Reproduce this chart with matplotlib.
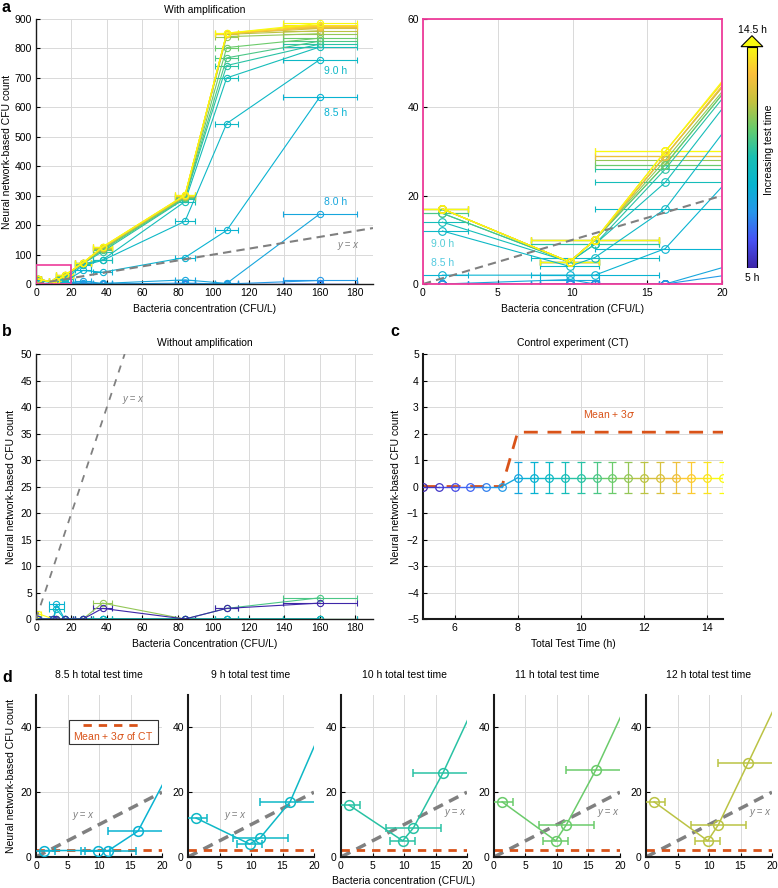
import numpy as np
import matplotlib.pyplot as plt
from matplotlib.colors import LinearSegmentedColormap
from matplotlib.patches import Rectangle, Polygon

plt.rcParams['font.family'] = ['Liberation Sans', 'DejaVu Sans']
plt.rcParams['font.size'] = 7.5

# parula-like colormap (MATLAB default)
parula = LinearSegmentedColormap.from_list('parula', [
    (0.2422, 0.1504, 0.6603), (0.2810, 0.3228, 0.9579), (0.1540, 0.5902, 0.9218),
    (0.0297, 0.7082, 0.8163), (0.1000, 0.7500, 0.7000), (0.4000, 0.8000, 0.4300),
    (0.7700, 0.7600, 0.2500), (0.9900, 0.7500, 0.2300), (0.9763, 0.9831, 0.0538)])

ORANGE = (0.85, 0.325, 0.098)
MAGENTA = '#ee3b9a'
GRAY = (0.5, 0.5, 0.5)

# ---- data ----
times = [5.0, 5.5, 6.0, 6.5, 7.0, 7.5, 8.0, 8.5, 9.0, 9.5,
         10.0, 10.5, 11.0, 11.5, 12.0, 12.5, 13.0, 13.5, 14.0, 14.5]
conc = [1.3, 9.8, 11.5, 16.2, 26.5, 37.5, 84, 107.5, 160]
conc_err = [1.7, 2.0, 4.3, 4.7, 4.5, 5.5, 5.5, 6.5, 21]

amp_counts = [
    [0, 0, 0, 0, 0, 0, 0, 0, 0],
    [0, 0, 0, 0, 0, 0, 0, 0, 0],
    [0, 0, 0, 0, 0, 0, 0, 0, 0],
    [0, 0, 0, 0, 0, 0, 0, 0, 0],
    [0, 0, 0, 0, 0, 0, 0, 0, 0],
    [0, 0, 0, 0, 5, 0, 3, 0, 12],
    [0, 1, 0, 0, 10, 2, 14, 2, 238],
    [2, 2, 2, 8, 46, 40, 90, 182, 635],
    [12, 4, 6, 17, 63, 80, 213, 545, 762],
    [14, 5, 9, 23, 68, 82, 280, 700, 805],
    [16, 5, 9, 26, 69, 110, 290, 742, 815],
    [16, 5, 10, 27, 70, 115, 292, 768, 825],
    [17, 5, 10, 27, 70, 118, 295, 803, 835],
    [17, 5, 10, 28, 70, 120, 297, 840, 850],
    [17, 5, 10, 29, 71, 122, 298, 848, 860],
    [17, 5, 10, 29, 71, 123, 300, 850, 868],
    [17, 5, 10, 29, 72, 124, 300, 850, 872],
    [17, 5, 10, 30, 72, 125, 301, 850, 876],
    [17, 5, 10, 30, 72, 126, 302, 852, 880],
    [17, 5, 10, 30, 73, 126, 302, 852, 885],
]

b_times = [14.5, 11.5, 10.5, 9.0, 8.5, 5.0]
b_counts = [
    [1, 0, 0, 0, 0, 0, 0, 0, 0],
    [0, 0, 0, 0, 0, 3, 0, 0, 0],
    [0, 0, 0, 0, 0, 0, 0, 2, 4],
    [0, 0, 1.8, 0, 0, 0, 0, 0, 0],
    [0, 0, 2.8, 0, 0, 0, 0, 0, 0],
    [0, 0, 0, 0, 0, 2, 0, 2, 3],
]

ct_times = times
ct_mean = [0, 0, 0, 0, 0, 0] + [0.33] * 14
ct_err = [0, 0, 0, 0, 0, 0] + [0.59] * 14
ct_upper = [0, 0, 0, 0, 0, 0] + [2.05] * 14

d_times = [8.5, 9.0, 10.0, 11.0, 12.0]
d_titles = ['8.5 h total test time', '9 h total test time', '10 h total test time',
            '11 h total test time', '12 h total test time']


def col(t):
    return parula((t - 5.0) / 9.5)


W, H = 778, 888
fig = plt.figure(figsize=(W / 100, H / 100), dpi=100)


def box(l, t, r, b):
    return [l / W, 1 - b / H, (r - l) / W, (b - t) / H]


def style(ax, lw=1.0):
    ax.grid(True, color='0.85', lw=0.7)
    ax.set_axisbelow(True)
    for s in ['top', 'right']:
        ax.spines[s].set_visible(False)
    for s in ['left', 'bottom']:
        ax.spines[s].set_color('0.1')
        ax.spines[s].set_linewidth(lw)
    ax.tick_params(direction='in', length=3, width=0.8, labelsize=7.5, pad=3)


YLAB = 'Neural network-based CFU count'

# ---- panel a (left) ----
ax = fig.add_axes(box(36, 19, 373, 284))
style(ax)
for t, y in zip(times, amp_counts):
    ax.errorbar(conc, y, xerr=conc_err, color=col(t), marker='o', mfc='none',
                ms=4.5, mew=0.8, lw=0.8, elinewidth=0.8, capsize=2.2)
ax.axline((0, 0), slope=1, color=GRAY, ls='--', lw=1.5, dashes=(4, 2.5), zorder=3)
ax.add_patch(Rectangle((0, 0), 20, 63, fill=False, ec=MAGENTA, lw=1.2, zorder=5))
ax.set_xlim(0, 190)
ax.set_ylim(0, 900)
ax.set_xticks(np.arange(0, 181, 20))
ax.set_yticks(np.arange(0, 901, 100))
ax.set_title('With amplification', fontsize=7.5, pad=4)
ax.set_xlabel('Bacteria concentration (CFU/L)')
ax.set_ylabel(YLAB, labelpad=2)
ax.text(169, 723, '9.0 h', color=col(9.0), fontsize=7.5, ha='center', va='center')
ax.text(169, 580, '8.5 h', color=col(8.5), fontsize=7.5, ha='center', va='center')
ax.text(169, 278, '8.0 h', color=col(8.0), fontsize=7.5, ha='center', va='center')
ax.text(176, 132, 'y = x', color=GRAY, fontsize=7, style='italic', ha='center', va='center')

# ---- panel a (right, zoom) ----
ax = fig.add_axes(box(423, 19, 722, 284))
style(ax)
for t, y in zip(times, amp_counts):
    ax.errorbar(conc, y, xerr=conc_err, color=col(t), marker='o', mfc='none',
                ms=5.5, mew=0.8, lw=0.8, elinewidth=0.8, capsize=2.5)
ax.axline((0, 0), slope=1, color=GRAY, ls='--', lw=1.5, dashes=(4, 2.5), zorder=3)
for s in ax.spines.values():
    s.set_visible(True)
    s.set_color(MAGENTA)
    s.set_linewidth(1.3)
    s.set_zorder(6)
ax.set_xlim(0, 20)
ax.set_ylim(0, 60)
ax.set_xticks([0, 5, 10, 15, 20])
ax.set_yticks([0, 20, 40, 60])
ax.set_xlabel('Bacteria concentration (CFU/L)')
ax.text(0.55, 9, '9.0 h', color=col(9.0), fontsize=7.5, alpha=0.7, va='center')
ax.text(0.55, 4.7, '8.5 h', color=col(8.5), fontsize=7.5, alpha=0.7, va='center')

# ---- colour arrow ----
cax = fig.add_axes(box(740, 35, 766, 268))
cax.axis('off')
grad = np.linspace(1, 0, 256).reshape(-1, 1)
cax.imshow(grad, cmap=parula, aspect='auto', extent=[0.25, 0.67, 0, 0.95])
cax.add_patch(Rectangle((0.25, 0), 0.42, 0.95, fill=False, ec='black', lw=0.8))
cax.add_patch(Polygon([[0.04, 0.95], [0.46, 0.997], [0.88, 0.95]], closed=True,
                      fc=parula(1.0), ec='black', lw=0.8))
cax.set_xlim(0, 1)
cax.set_ylim(0, 1)
fig.text(752 / W, 1 - 30 / H, '14.5 h', ha='center', va='center', fontsize=7.5)
fig.text(752 / W, 1 - 278 / H, '5 h', ha='center', va='center', fontsize=7.5)
fig.text(769 / W, 1 - 150 / H, 'Increasing test time', rotation=90,
         ha='center', va='center', fontsize=7.5)

# ---- panel b ----
ax = fig.add_axes(box(36, 354, 373, 619))
style(ax)
for t, y in zip(b_times, b_counts):
    ax.errorbar(conc, y, xerr=conc_err, color=col(t), marker='o', mfc='none',
                ms=4.5, mew=0.8, lw=0.8, elinewidth=0.8, capsize=2.2)
ax.axline((0, 0), slope=1, color=GRAY, ls='--', lw=1.3, dashes=(4, 4), zorder=3)
ax.set_xlim(0, 190)
ax.set_ylim(0, 50)
ax.set_xticks(np.arange(0, 181, 20))
ax.set_yticks(np.arange(0, 51, 5))
ax.set_title('Without amplification', fontsize=7.5, pad=6)
ax.set_xlabel('Bacteria Concentration (CFU/L)')
ax.set_ylabel(YLAB, labelpad=3)
ax.text(49, 41.5, 'y = x', color=GRAY, fontsize=7, style='italic', va='center')

# ---- panel c ----
ax = fig.add_axes(box(423, 354, 723, 619))
style(ax, lw=1.5)
ax.plot(ct_times, ct_upper, color=ORANGE, lw=2, dashes=(5, 3.5), zorder=2)
for i in range(len(ct_times) - 1):
    ax.plot(ct_times[i:i + 2], ct_mean[i:i + 2], color=col(ct_times[i + 1]), lw=1, zorder=3)
for t, m, e in zip(ct_times, ct_mean, ct_err):
    ax.errorbar([t], [m], yerr=[e] if e > 0 else None, color=col(t), marker='o',
                mfc='none', ms=5.5, mew=0.9, elinewidth=0.9, capsize=2.8, zorder=4)
ax.set_xlim(5, 14.5)
ax.set_ylim(-5, 5)
ax.set_xticks([6, 8, 10, 12, 14])
ax.set_yticks(np.arange(-5, 6, 1))
ax.set_title('Control experiment (CT)', fontsize=7.5, pad=6)
ax.set_xlabel('Total Test Time (h)')
ax.set_ylabel(YLAB)
ax.text(10.9, 2.75, r'Mean + 3$\sigma$', color=ORANGE, fontsize=7.5, ha='center', va='center')

# ---- panel d ----
lefts = [36, 188, 341, 494, 646]
for k, (t, title, l) in enumerate(zip(d_times, d_titles, lefts)):
    ax = fig.add_axes(box(l, 695, l + 126, 857))
    style(ax, lw=1.5)
    y = amp_counts[times.index(t)]
    ax.axline((0, 0), slope=1, color=GRAY, ls='--', lw=2.5, dashes=(3, 2), zorder=2)
    ax.axhline(max(ct_upper), color=ORANGE, lw=2, dashes=(3, 2.5), zorder=2)
    ax.errorbar(conc, y, xerr=conc_err, color=col(t), marker='o', mfc='none',
                ms=7, mew=1.1, lw=1.1, elinewidth=1.1, capsize=3, zorder=3)
    ax.set_xlim(0, 20)
    ax.set_ylim(0, 50)
    ax.set_xticks([0, 5, 10, 15, 20])
    ax.set_yticks([0, 20, 40])
    ax.set_title(title, fontsize=7.5, pad=12)
    if k < 2:
        ax.text(7.5, 13, 'y = x', color=GRAY, fontsize=7, style='italic', ha='center', va='center')
    else:
        ax.text(19.8, 14, 'y = x', color=GRAY, fontsize=7, style='italic', ha='right', va='center')
    if k == 0:
        ax.set_ylabel(YLAB, labelpad=3)
        ax.add_patch(Rectangle((0.262, 0.70), 0.706, 0.146, transform=ax.transAxes,
                               fc='white', ec='0.2', lw=0.8, zorder=5))
        ax.plot([0.37, 0.83], [0.815, 0.815], transform=ax.transAxes, color=ORANGE,
                lw=2, dashes=(3, 2.5), zorder=6)
        ax.text(0.615, 0.75, r'Mean + 3$\sigma$ of CT', transform=ax.transAxes,
                color=ORANGE, fontsize=7.5, ha='center', va='center', zorder=6)

fig.text(404 / W, 1 - 881 / H, 'Bacteria concentration (CFU/L)', ha='center', va='center', fontsize=7.5)

# panel letters
for s, (px, py) in zip('abcd', [(2, 8), (2, 332), (390, 332), (2, 678)]):
    fig.text(px / W, 1 - py / H, s, fontsize=11.5, fontweight='bold', ha='left', va='center')

fig.savefig('out.png', dpi=100)
